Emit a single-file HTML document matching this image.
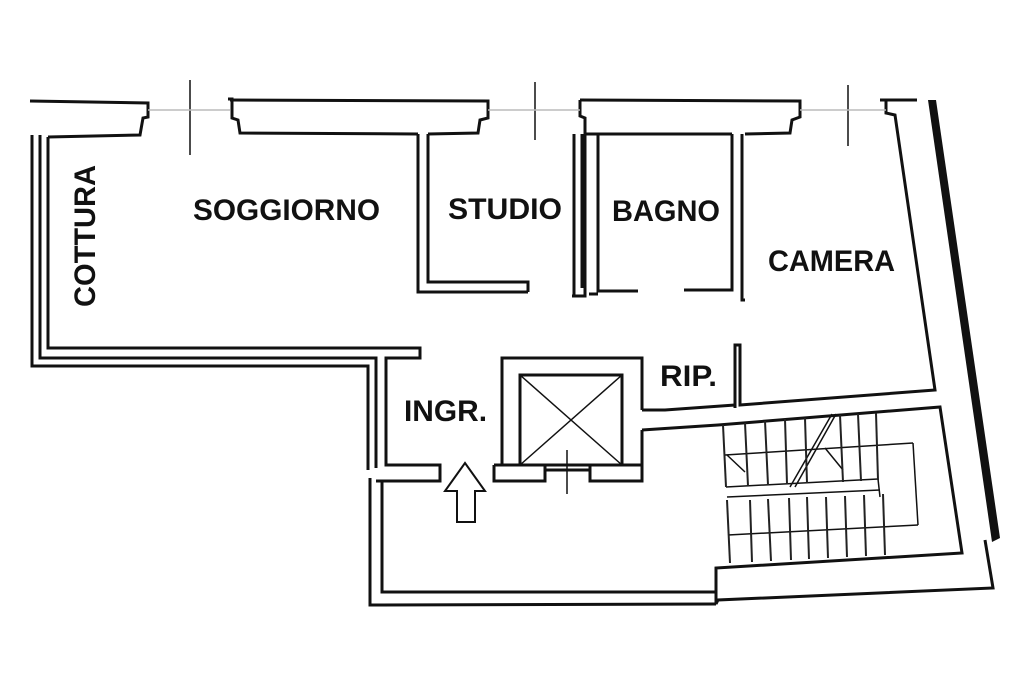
<!DOCTYPE html>
<html><head><meta charset="utf-8"><style>
html,body{margin:0;padding:0;background:#fff}
svg{display:block}
text{font-family:"Liberation Sans",Arial,sans-serif;font-weight:bold;fill:#111}
</style></head><body>
<svg width="1024" height="682" viewBox="0 0 1024 682" xmlns="http://www.w3.org/2000/svg">
<rect width="1024" height="682" fill="#fff"/>
<g fill="none" stroke="#111" stroke-width="3" stroke-linejoin="miter">
<polyline points="30,101 148,103 148,117 143,118 140,135 48,137"/>
<polyline points="228,99 232,99 232,118 238,120 240,133 418,134"/>
<polyline points="230,100 488,101 488,118 480,120 478,133 428,134"/>
<polyline points="580,100 800,101 800,117 792,120 790,133 745,134"/>
<polyline points="580,100 580,116 585,118 585,296 572,296"/>
<polyline points="598,134 598,291 638,291"/>
<polyline points="684,290 732,290 732,134"/>
<polyline points="589,294 598,294"/>
<polyline points="586,134 732,134"/>
<polyline points="742,134 742,300 745,300"/>
<polyline points="880,100 917,100"/>
<polyline points="886,100 886,113 895,115 935,390 740,405 740,345 735,345 735,408"/>
<polyline points="418,134 418,292 528,292"/>
<polyline points="428,134 428,282 528,282 528,292"/>
<polyline points="574,134 574,296"/>
<polyline points="582,134 582,288"/>
<polyline points="32,135 32,366 368,366 368,470"/>
<polyline points="40,135 40,358 376,358 376,468"/>
<polyline points="48,137 48,348 420,348 420,358 386,358 386,465 440,465 440,481 376,481"/>
<polyline points="370,478 370,605 716,604"/>
<polyline points="382,482 382,592 716,592"/>
<polyline points="502,465 502,358 642,358 642,410"/>
<polyline points="642,430 642,481 590,481 590,465 642,465"/>
<polyline points="494,465 545,465 545,481 494,481 494,465"/>
<rect x="520" y="375" width="102" height="90"/>
<polyline points="545,470 590,470"/>
<polyline points="642,410 665,410 735,405"/>
<polyline points="642,430 718,425 940,407 962,553 716,568 716,604 718,600 993,588 985,540"/>
</g>
<g stroke="#111" stroke-width="1.5" fill="none">
<line x1="520" y1="375" x2="622" y2="465"/><line x1="622" y1="375" x2="520" y2="465"/>
<line x1="567" y1="450" x2="567" y2="494"/>
<line x1="190" y1="80" x2="190" y2="155"/>
<line x1="535" y1="82" x2="535" y2="140"/>
<line x1="848" y1="85" x2="848" y2="146"/>
<line x1="148" y1="110" x2="230" y2="110" stroke="#bbb"/>
<line x1="488" y1="110" x2="580" y2="110" stroke="#bbb"/>
<line x1="800" y1="110" x2="886" y2="110" stroke="#bbb"/>
<line x1="725" y1="455" x2="913" y2="443"/>
<line x1="726" y1="487" x2="878" y2="479"/>
<line x1="727" y1="497" x2="880" y2="490"/>
<line x1="878" y1="479" x2="880" y2="497"/>
<line x1="913" y1="443" x2="918" y2="525"/>
<line x1="728" y1="535" x2="918" y2="525"/>
<line x1="727" y1="455" x2="745" y2="472"/>
<line x1="825" y1="448" x2="843" y2="470"/>
<line x1="790" y1="487" x2="832" y2="414"/>
<line x1="795" y1="487" x2="836" y2="414"/>
</g>
<g stroke="#222" stroke-width="2">
<line x1="723" y1="425" x2="726" y2="487"/><line x1="745" y1="423" x2="748" y2="486"/>
<line x1="765" y1="421" x2="768" y2="485"/><line x1="785" y1="419" x2="787" y2="484"/>
<line x1="805" y1="418" x2="807" y2="483"/><line x1="840" y1="415" x2="843" y2="482"/>
<line x1="858" y1="414" x2="861" y2="481"/><line x1="876" y1="413" x2="878" y2="480"/>
<line x1="727" y1="500" x2="730" y2="563"/><line x1="750" y1="500" x2="752" y2="562"/>
<line x1="768" y1="499" x2="771" y2="561"/><line x1="789" y1="498" x2="791" y2="560"/>
<line x1="807" y1="497" x2="809" y2="559"/><line x1="826" y1="497" x2="828" y2="558"/>
<line x1="845" y1="496" x2="847" y2="557"/><line x1="864" y1="495" x2="866" y2="556"/>
<line x1="883" y1="494" x2="885" y2="555"/>
</g>
<polygon points="928,100 936,100 1000,538 992,542" fill="#111"/>
<polygon points="465,463 485,491 475,491 475,522 457,522 457,491 445,491" fill="#fff" stroke="#111" stroke-width="2"/>
<g font-size="30">
<text x="193" y="220" textLength="187" lengthAdjust="spacingAndGlyphs">SOGGIORNO</text>
<text x="448" y="219" textLength="114" lengthAdjust="spacingAndGlyphs">STUDIO</text>
<text x="612" y="221" textLength="108" lengthAdjust="spacingAndGlyphs">BAGNO</text>
<text x="768" y="271" textLength="127" lengthAdjust="spacingAndGlyphs">CAMERA</text>
<text x="660" y="386" textLength="57" lengthAdjust="spacingAndGlyphs">RIP.</text>
<text x="404" y="421" textLength="83" lengthAdjust="spacingAndGlyphs">INGR.</text>
<text transform="translate(95,307) rotate(-90)" textLength="142" lengthAdjust="spacingAndGlyphs">COTTURA</text>
</g>
</svg>
</body></html>
